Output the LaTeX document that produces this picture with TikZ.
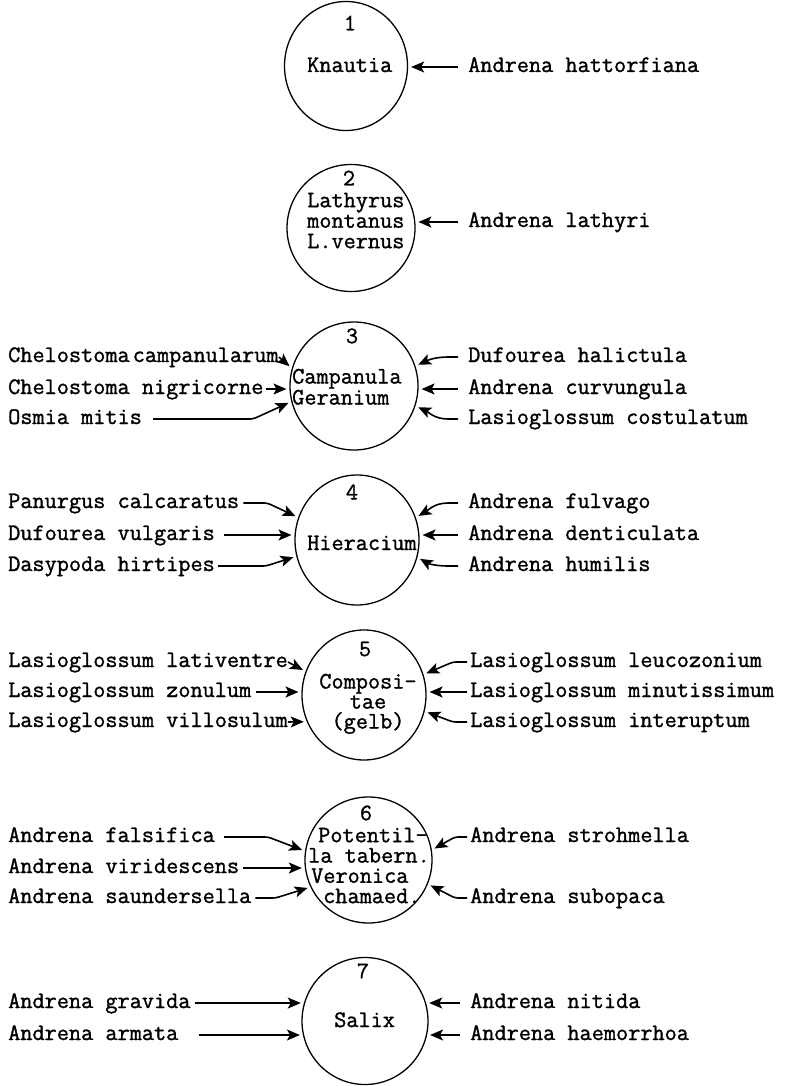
\documentclass[tikz,border=0pt]{standalone}
\usepackage{fontspec}
\newfontfamily\tw{Latin Modern Mono}[BoldFont={Latin Modern Mono}, BoldFeatures={FakeBold=1.2}]
\usetikzlibrary{arrows.meta,shapes.geometric}
\begin{document}
\begin{tikzpicture}[x=1pt,y=-1pt,
  lbl/.style={font=\tw\bfseries\fontsize{23.6pt}{23.6pt}\selectfont, inner sep=0pt,
    text height=14pt, text depth=4pt, anchor=base west},
  inside/.style={font=\tw\bfseries\fontsize{23.6pt}{#1}\selectfont, inner sep=0pt},
  num/.style={font=\tw\bfseries\fontsize{23.6pt}{23.6pt}\selectfont, inner sep=0pt, anchor=center},
  plant/.style={ellipse, draw, line width=1.3pt, inner sep=0pt},
  arr/.style={-{Stealth[length=13pt,width=11pt,inset=3pt]}, line width=1.6pt, shorten >=3pt},
  bent/.style={arr, rounded corners=3pt}
]
\fill[white] (0,0) rectangle (787,1086);
\useasboundingbox (0,0) rectangle (787,1086);

% --- 1: Knautia
\node[plant, minimum width=123pt, minimum height=129pt] (c1) at (346,66) {};
\node[num] (n1) at (350,23) {1};
\node[lbl] (p1) at (307,72) {Knautia};
\node[lbl] (r11) at (468,72) {Andrena hattorfiana};
\draw[arr] ([xshift=-10pt]r11.west) -- (c1.359 |- r11.west);

% --- 2: Lathyrus
\node[plant, minimum width=128pt, minimum height=127pt] (c2) at (351,228) {};
\node[num] (n2) at (349,178) {2};
\node[inside=20.5pt, align=left, anchor=north west] (p2) at (307,192.6)
  {Lathyrus\\montanus\\L.vernus};
\node[lbl] (r21) at (468,227) {Andrena lathyri};
\draw[arr] ([xshift=-10pt]r21.west) -- (c2.5 |- r21.west);

% --- 3: Campanula / Geranium
\node[plant, minimum width=128pt, minimum height=128pt] (c3) at (354,386) {};
\node[num] (n3) at (352,336) {3};
\node[inside=21pt, align=left, anchor=north west] (p3) at (292,368.6)
  {Campanula\\Geranium};
\node[lbl] (l31) at (8,362) {Chelostoma\kern3pt campanularum};
\node[lbl] (l32) at (8,394) {Chelostoma nigricorne};
\node[lbl] (l33) at (8,424) {Osmia mitis};
\node[lbl] (r31) at (468,362) {Dufourea halictula};
\node[lbl] (r32) at (468,394) {Andrena curvungula};
\node[lbl] (r33) at (468,424) {Lasioglossum costulatum};
\draw[arr] (l31.east) -- (c3.164);
\draw[arr] ([xshift=2pt]l32.east) -- (c3.183 |- l32.east);
\draw[bent] ([xshift=11pt]l33.east) -- ++(100,0) -- (c3.194);
\draw[arr] ([xshift=-10pt]r31.west) -- ++(-10,0) to[out=180,in=25] (c3.18);
\draw[arr] ([xshift=-10pt]r32.west) -- (c3.357 |- r32.west);
\draw[arr] ([xshift=-10pt]r33.west) -- ++(-10,0) to[out=180,in=-25] (c3.342);

% --- 4: Hieracium
\node[plant, minimum width=124pt, minimum height=130pt] (c4) at (357,540) {};
\node[num] (n4) at (352,492) {4};
\node[lbl] (p41) at (307,550) {Hieracium};
\node[lbl] (l41) at (8,508) {Panurgus calcaratus};
\node[lbl] (l42) at (8,540) {Dufourea vulgaris};
\node[lbl] (l43) at (8,571) {Dasypoda hirtipes};
\node[lbl] (r41) at (468,508) {Andrena fulvago};
\node[lbl] (r42) at (468,540) {Andrena denticulata};
\node[lbl] (r43) at (468,571) {Andrena humilis};
\draw[bent] ([xshift=4pt]l41.east) -- ++(24,0) -- (c4.159);
\draw[arr] ([xshift=9pt]l42.east) -- (c4.176 |- l42.east);
\draw[bent] ([xshift=3pt]l43.east) -- ++(48,0) -- (c4.195);
\draw[arr] ([xshift=-10pt]r41.west) -- ++(-10,0) to[out=180,in=30] (c4.21);
\draw[arr] ([xshift=-10pt]r42.west) -- (c4.4 |- r42.west);
\draw[arr] ([xshift=-10pt]r43.west) -- ++(-10,0) to[out=180,in=-30] (c4.344);

% --- 5: Compositae (gelb)
\node[plant, minimum width=124pt, minimum height=130pt] (c5) at (364,695) {};
\node[num] (n5) at (365,649) {5};
\node[inside=20pt, align=center, anchor=north] (p5) at (368,673.6)
  {Composi-\\tae\\(gelb)};
\node[lbl] (l51) at (8,667) {Lasioglossum lativentre};
\node[lbl] (l52) at (8,697) {Lasioglossum zonulum};
\node[lbl] (l53) at (8,727) {Lasioglossum villosulum};
\node[lbl] (r51) at (470,667) {Lasioglossum leucozonium};
\node[lbl] (r52) at (470,697) {Lasioglossum minutissimum};
\node[lbl] (r53) at (470,727) {Lasioglossum interuptum};
\draw[arr] (l51.east) -- (c5.158);
\draw[arr] ([xshift=5pt]l52.east) -- (c5.176 |- l52.east);
\draw[arr] (l53.east) -- (c5.205);
\draw[bent] ([xshift=-3pt]r51.west) -- ++(-14,0) -- (c5.19);
\draw[arr] ([xshift=-3pt]r52.west) -- (c5.3 |- r52.west);
\draw[bent] ([xshift=-3pt]r53.west) -- ++(-14,0) -- (c5.345);

% --- 6: Potentilla tabern. / Veronica chamaed.
\node[plant, minimum width=127pt, minimum height=126pt] (c6) at (368.5,860) {};
\node[num] (n6) at (366,813) {6};
\node[inside=20.3pt, align=left, anchor=north west] (p6) at (308,827.6)
  {\hspace*{10pt}Potentil-\\la tabern.\\\hspace*{3pt}Veronica\\\hspace*{15pt}chamaed.};
\node[lbl] (l61) at (8,842) {Andrena falsifica};
\node[lbl] (l62) at (8,873) {Andrena viridescens};
\node[lbl] (l63) at (8,903) {Andrena saundersella};
\node[lbl] (r61) at (470,842) {Andrena strohmella};
\node[lbl] (r62) at (470,903) {Andrena subopaca};
\draw[bent] ([xshift=9pt]l61.east) -- ++(44,0) -- (c6.172);
\draw[arr] ([xshift=4pt]l62.east) -- (c6.187 |- l62.east);
\draw[bent] ([xshift=4pt]l63.east) -- ++(20,0) -- (c6.205);
\draw[bent] ([xshift=-3pt]r61.west) -- ++(-12,0) -- (c6.9);
\draw[bent] ([xshift=-3pt]r62.west) -- ++(-12,0) -- (c6.338);

% --- 7: Salix
\node[plant, minimum width=126pt, minimum height=127pt] (c7) at (365,1021) {};
\node[num] (n7) at (363,971) {7};
\node[lbl] (p71) at (334,1027) {Salix};
\node[lbl] (l71) at (8,1008) {Andrena gravida};
\node[lbl] (l72) at (8,1040) {Andrena armata};
\node[lbl] (r71) at (470,1008) {Andrena nitida};
\node[lbl] (r72) at (470,1040) {Andrena haemorrhoa};
\draw[arr] ([xshift=4pt]l71.east) -- (c7.164 |- l71.east);
\draw[arr] ([xshift=20pt]l72.east) -- (c7.193 |- l72.east);
\draw[arr] ([xshift=-10pt]r71.west) -- (c7.16 |- r71.west);
\draw[arr] ([xshift=-10pt]r72.west) -- (c7.347 |- r72.west);
\end{tikzpicture}
\end{document}
